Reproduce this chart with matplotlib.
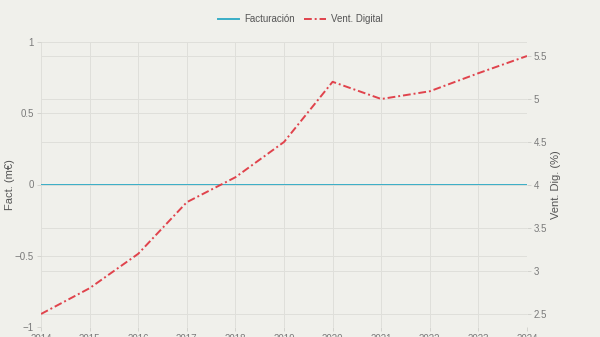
import matplotlib.pyplot as plt

years = [2014, 2015, 2016, 2017, 2018, 2019, 2020, 2021, 2022, 2023, 2024]
facturacion = [0, 0, 0, 0, 0, 0, 0, 0, 0, 0, 0]
vent_digital = [2.5, 2.8, 3.2, 3.8, 4.09, 4.5, 5.2, 5.0, 5.09, 5.3, 5.5]

bg = "#f0f0eb"
grid_col = "#dfdfda"
txt = "#7a7a7a"

plt.rcParams['font.family'] = ['Liberation Sans', 'DejaVu Sans']

fig = plt.figure(figsize=(6, 3.37), dpi=100, facecolor=bg)
ax = fig.add_axes([41 / 600, 10 / 337, 486 / 600, 285 / 337])
ax.set_facecolor(bg)
ax2 = ax.twinx()

l1, = ax.plot(years, facturacion, color="#3aaec6", lw=1.4, label="Facturación", zorder=3)
l2, = ax2.plot(years, vent_digital, color="#e0434c", lw=1.4, ls=(0, (4, 1.5, 1, 1.5)),
               label="Vent. Digital", zorder=3)

ax.set_xlim(2014, 2024)
ax.set_ylim(-1, 1)
ax2.set_ylim(2.5 - 13 / 86, 5.5 + 14 / 86)
ax.set_xticks(years)
ax.set_yticks([-1, -0.5, 0, 0.5, 1])
ax.set_yticklabels(["−1", "−0.5", "0", "0.5", "1"])
ax2.set_yticks([2.5, 3, 3.5, 4, 4.5, 5, 5.5])
ax2.set_yticklabels(["2.5", "3", "3.5", "4", "4.5", "5", "5.5"])

for a in (ax, ax2):
    for s in a.spines.values():
        s.set_visible(False)
    a.tick_params(colors=txt, labelsize=7, length=3, width=0.6, color="#cfcfca", pad=2)
    a.grid(True, color=grid_col, lw=0.7)
ax2.grid(False)
ax2.yaxis.grid(True, color=grid_col, lw=0.7)
ax.set_axisbelow(True)
ax2.set_axisbelow(True)

ax.set_ylabel("Fact. (m€)", color="#555555", fontsize=8)
ax.yaxis.set_label_coords(-0.054, 0.5)
ax2.set_ylabel("Vent. Dig. (%)", color="#555555", fontsize=8)
ax2.yaxis.set_label_coords(1.05, 0.5)

fig.legend(handles=[l1, l2], loc="center", bbox_to_anchor=(0.5, 1 - 19 / 337), ncol=2,
           frameon=False, fontsize=7, labelcolor="#555555", handlelength=2.2,
           columnspacing=1.0, handletextpad=0.5)

fig.savefig("out.png", dpi=100, facecolor=bg)
